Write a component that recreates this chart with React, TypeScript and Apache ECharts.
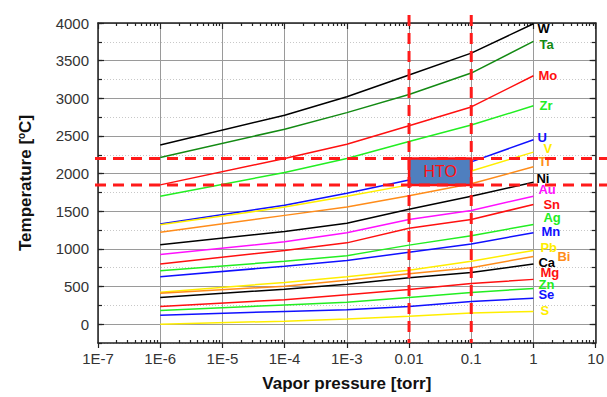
import React, { useEffect, useRef } from 'react';
import * as echarts from 'echarts';

// Vapor pressure sample points [torr]
const pressures = [1e-6, 1e-4, 1e-3, 1e-2, 1e-1, 1];

// Temperature [°C] at each pressure point
const tW = [2380, 2775, 3020, 3310, 3600, 3990];
const tTa = [2215, 2590, 2810, 3050, 3335, 3755];
const tMo = [1850, 2200, 2390, 2635, 2885, 3300];
const tZr = [1700, 2015, 2200, 2425, 2645, 2900];
const tU = [1330, 1580, 1740, 1915, 2155, 2450];
const tV = [1320, 1555, 1700, 1850, 2035, 2285];
const tTi = [1220, 1445, 1555, 1705, 1865, 2090];
const tNi = [1055, 1230, 1340, 1525, 1700, 1885];
const tAu = [925, 1095, 1215, 1390, 1510, 1700];
const tSn = [800, 980, 1080, 1275, 1390, 1590];
const tAg = [710, 835, 910, 1050, 1175, 1325];
const tMn = [630, 770, 845, 955, 1065, 1215];
const tPb = [425, 555, 630, 715, 835, 980];
const tBi = [410, 505, 585, 670, 750, 900];
const tCa = [355, 465, 530, 615, 685, 800];
const tMg = [235, 325, 390, 460, 540, 595];
const tZn = [180, 255, 290, 355, 420, 475];
const tSe = [120, 170, 190, 235, 300, 345];
const tS = [0, 40, 70, 105, 150, 170];

const elementNames = ['W', 'Ta', 'Mo', 'Zr', 'U', 'V', 'Ti', 'Ni', 'Au', 'Sn', 'Ag', 'Mn', 'Pb', 'Bi', 'Ca', 'Mg', 'Zn', 'Se', 'S'];
const seriesValues = [tW, tTa, tMo, tZr, tU, tV, tTi, tNi, tAu, tSn, tAg, tMn, tPb, tBi, tCa, tMg, tZn, tSe, tS];

// HTO operating window
const htoPressure = [0.01, 0.1];
const htoTemperature = [1850, 2200];

// Axis tick labels
const xTickLabels = ['1E-7', '1E-6', '1E-5', '1E-4', '1E-3', '0.01', '0.1', '1', '10'];
const yTickValues = [0, 500, 1000, 1500, 2000, 2500, 3000, 3500, 4000];

// Styles
const BLACK = '#000000';
const DGREEN = '#138a13';
const RED = '#ff1010';
const LGREEN = '#22ee22';
const BLUE = '#1010ff';
const YELLOW = '#ffee00';
const ORANGE = '#ff8c1a';
const MAGENTA = '#ff10ff';
const colors = [BLACK, DGREEN, RED, LGREEN, BLUE, YELLOW, ORANGE, BLACK, MAGENTA, RED, LGREEN, BLUE, YELLOW, ORANGE, BLACK, RED, LGREEN, BLUE, YELLOW];
const labelOffsets: [number, number][] = [
  [4, 5], [6, 3], [5, 0], [6, 0], [4, -2], [10, -4], [5, -5], [3, -4], [5, -7], [10, 0],
  [10, -7], [8, -1], [7, -3], [24, 0], [5, -1], [7, -7], [5, -4], [5, -4], [7, -1],
];

export default function App() {
  const ref = useRef<HTMLDivElement>(null);
  useEffect(() => {
    const chart = echarts.init(ref.current!, null, { renderer: 'svg' });
    const lx = (p: number) => Math.log10(p);
    const minorX: number[] = [];
    for (let d = -7; d < 1; d++) for (let k = 2; k <= 9; k++) minorX.push(d + Math.log10(k));
    const font = '"Liberation Sans", Arial, sans-serif';
    const axisLine = { show: true, onZero: false, lineStyle: { color: '#222', width: 1.5 } };
    const noLine = { show: false, onZero: false };
    const tickColor = { color: '#222', width: 1.2 };

    const series: any[] = elementNames.map((name, i) => ({
      type: 'line',
      name,
      xAxisIndex: 0,
      yAxisIndex: 1,
      data: pressures.map((p, j) => [lx(p), seriesValues[i][j]]),
      showSymbol: false,
      symbol: 'none',
      smooth: false,
      lineStyle: { color: colors[i], width: 1.5 },
      itemStyle: { color: colors[i] },
      endLabel: {
        show: true,
        formatter: name,
        color: colors[i],
        fontWeight: 'bold',
        fontSize: 13,
        fontFamily: font,
        distance: 0,
        offset: labelOffsets[i],
        align: 'left',
      },
      z: 3,
    }));
    series.push({
      type: 'line',
      name: 'HTO',
      xAxisIndex: 0,
      yAxisIndex: 1,
      data: [],
      z: 10,
      markArea: {
        z: 10,
        silent: true,
        itemStyle: { color: '#4f7fbf', borderColor: '#ff1010', borderWidth: 2.5, opacity: 1 },
        label: { show: true, position: 'inside', color: '#ff1010', fontSize: 16, fontFamily: font },
        data: [[
          { name: 'HTO', xAxis: lx(htoPressure[0]), yAxis: htoTemperature[1] },
          { xAxis: lx(htoPressure[1]), yAxis: htoTemperature[0] },
        ]],
      },
    });

    const xBase = { type: 'value', min: -7, max: 1, interval: 1, gridIndex: 0 };
    const yBase = { type: 'value', min: -250, max: 4000, gridIndex: 0 };

    chart.setOption({
      animation: false,
      backgroundColor: '#ffffff',
      grid: { left: 98, right: 7, top: 23, bottom: 50, containLabel: false },
      xAxis: [
        {
          ...xBase,
          position: 'bottom',
          name: 'Vapor pressure [torr]',
          nameLocation: 'middle',
          nameGap: 32,
          nameTextStyle: { fontSize: 17, fontWeight: 'bold', color: '#111', fontFamily: font },
          axisLine,
          axisTick: { show: true, inside: false, length: 5, lineStyle: tickColor },
          axisLabel: {
            fontSize: 15,
            color: '#333',
            fontFamily: font,
            margin: 8,
            formatter: (v: number) => xTickLabels[Math.round(v) + 7] ?? '',
          },
          splitLine: { show: true, lineStyle: { color: '#9a9a9a', width: 1 } },
        },
        {
          ...xBase,
          position: 'bottom',
          axisLine: noLine,
          axisTick: { show: true, inside: true, length: 3, customValues: minorX, lineStyle: tickColor },
          axisLabel: { show: false },
          splitLine: { show: false },
        },
        {
          ...xBase,
          position: 'top',
          axisLine,
          axisTick: { show: true, inside: true, length: 6, lineStyle: tickColor },
          axisLabel: { show: false },
          splitLine: { show: false },
        },
        {
          ...xBase,
          position: 'top',
          axisLine: noLine,
          axisTick: { show: true, inside: true, length: 3, customValues: minorX, lineStyle: tickColor },
          axisLabel: { show: false },
          splitLine: { show: false },
        },
      ],
      yAxis: [
        {
          ...yBase,
          interval: 250,
          position: 'left',
          axisLine: noLine,
          axisTick: { show: true, inside: true, length: 4, lineStyle: tickColor },
          axisLabel: { show: false },
          splitLine: { show: true, lineStyle: { color: '#c8c8c8', width: 1, type: [1, 2] } },
        },
        {
          ...yBase,
          position: 'left',
          name: 'Temperature [{sup|o}C]',
          nameLocation: 'middle',
          nameGap: 64,
          nameTextStyle: {
            fontSize: 17,
            fontWeight: 'bold',
            color: '#111',
            fontFamily: font,
            rich: { sup: { fontSize: 10, fontWeight: 'bold', color: '#111', fontFamily: font, verticalAlign: 'top', padding: [0, 0, 8, 0] } },
          },
          axisLine,
          axisTick: { show: true, inside: true, length: 6, customValues: yTickValues, lineStyle: tickColor },
          axisLabel: {
            fontSize: 15,
            color: '#333',
            fontFamily: font,
            margin: 9,
            customValues: yTickValues,
            formatter: (v: number) => String(v),
          },
          splitLine: { show: true, lineStyle: { color: '#9a9a9a', width: 1 } },
        },
        {
          ...yBase,
          interval: 250,
          position: 'right',
          axisLine: noLine,
          axisTick: { show: true, inside: true, length: 4, lineStyle: tickColor },
          axisLabel: { show: false },
          splitLine: { show: false },
        },
        {
          ...yBase,
          position: 'right',
          axisLine,
          axisTick: { show: true, inside: true, length: 6, customValues: yTickValues, lineStyle: tickColor },
          axisLabel: { show: false },
          splitLine: { show: false },
        },
      ],
      series,
    });

    const px = (x: number, y: number) => chart.convertToPixel({ xAxisIndex: 0, yAxisIndex: 1 }, [x, y]) as number[];
    const [left, bottom] = px(-7, -250);
    const [, top] = px(1, 4000);
    const dash = { stroke: '#ff1a1a', lineWidth: 3, lineDash: [11, 7] };
    const graphics: any[] = [];
    htoTemperature.forEach((t) => {
      const y = px(0, t)[1];
      graphics.push({ type: 'line', z: 20, silent: true, shape: { x1: left - 3, y1: y, x2: chart.getWidth(), y2: y }, style: dash });
    });
    htoPressure.forEach((p) => {
      const x = px(lx(p), 0)[0];
      graphics.push({ type: 'line', z: 20, silent: true, shape: { x1: x, y1: top - 8, x2: x, y2: bottom }, style: dash });
    });
    chart.setOption({ graphic: graphics });

    return () => chart.dispose();
  }, []);
  return <div ref={ref} style={{ position: 'absolute', left: 0, top: 0, width: 607, height: 397 }} />;
}
